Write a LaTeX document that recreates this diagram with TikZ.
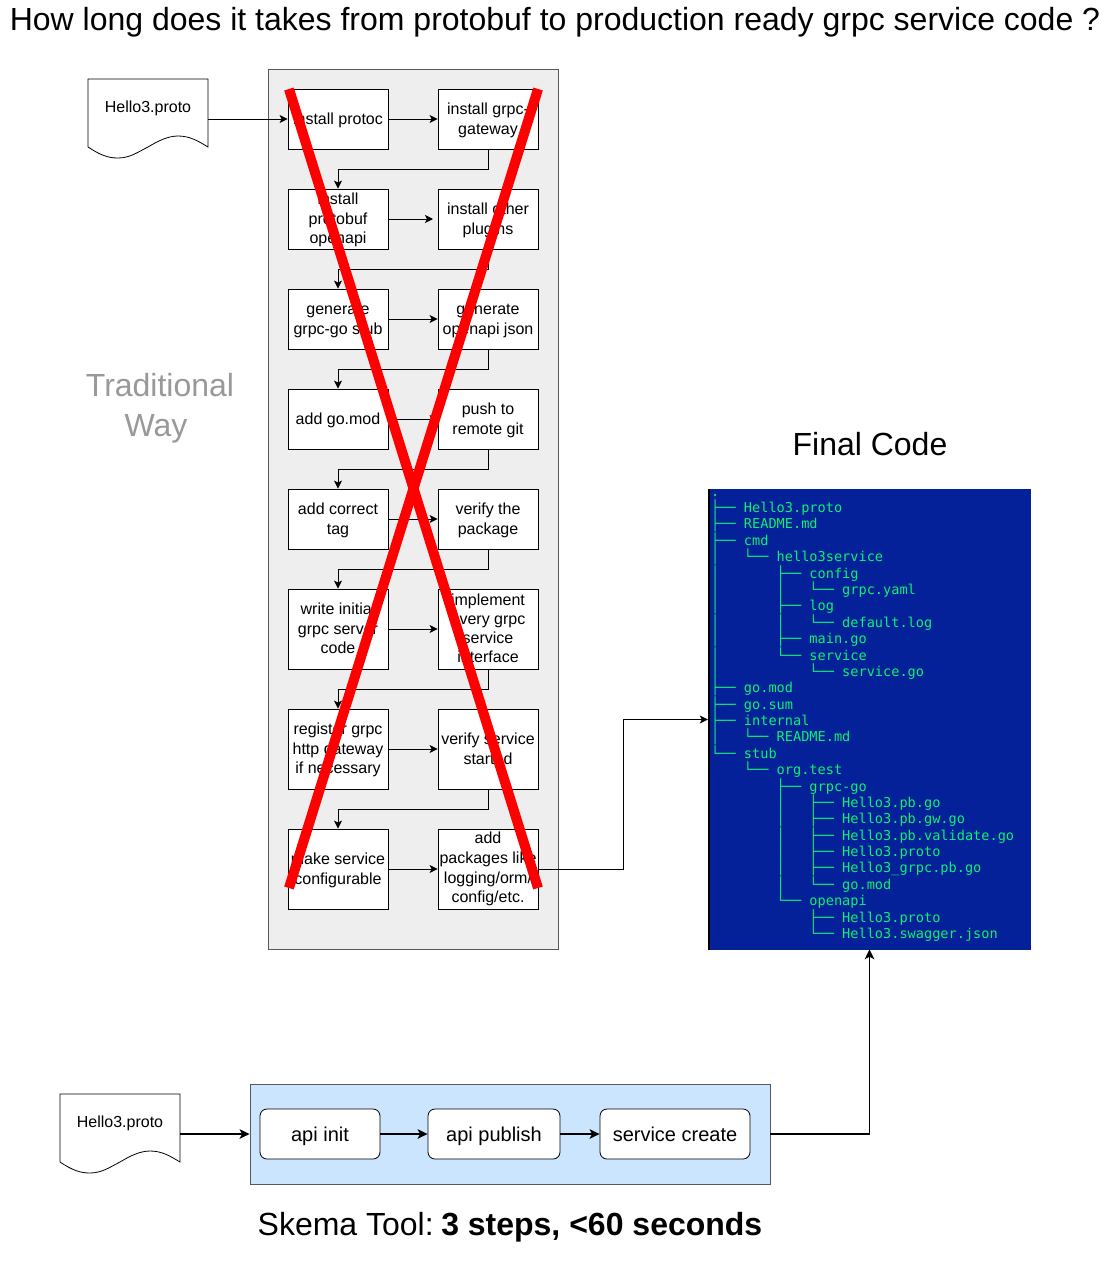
\documentclass[tikz,border=0pt]{standalone}
\usepackage{fontspec}
\setmainfont{Liberation Sans}
\newfontfamily\treemono{DejaVu Sans Mono}
\usetikzlibrary{arrows.meta}
\definecolor{panelgray}{HTML}{EEEEEE}
\definecolor{panelline}{HTML}{55585C}
\definecolor{skemablue}{HTML}{CCE5FF}
\definecolor{termblue}{HTML}{04219A}
\definecolor{termgreen}{HTML}{0CF070}
\definecolor{crossred}{HTML}{FF0000}
\definecolor{waygray}{HTML}{999999}
\tikzset{
  stepbox/.style={draw=black,fill=white,line width=0.8pt,minimum width=100pt,inner sep=0pt,align=center,text depth=0pt},
  settext/.style 2 args={font=\fontsize{16}{#2}\selectfont,text height=#1pt},
  oneline/.style={stepbox,settext={10.6}{19.2}},
  twolines/.style={stepbox,settext={30.6}{20}},
  threelines/.style={stepbox,settext={48.6}{19.2}},
  fourlines/.style={stepbox,settext={67.2}{19.2}},
  widefour/.style={stepbox,settext={67.4}{19.6}},
  flow/.style={draw=black,line width=0.9pt,-{Stealth[length=8pt,width=8pt,inset=2pt]}},
  flowbig/.style={draw=black,line width=1.8pt,-{Stealth[length=10pt,width=9.5pt,inset=2.5pt]}},
  docline/.style={draw=black,fill=white,line width=0.8pt},
  cross/.style={draw=crossred,line width=10pt},
  tool/.style={draw=black,fill=white,rounded corners=7pt,line width=0.8pt,minimum height=50pt,inner sep=0pt,
    text height=18.5pt,text depth=4pt,font=\fontsize{20}{24}\selectfont},
  doctext/.style={font=\fontsize{16}{19.2}\selectfont,inner sep=0pt},
  bigtext/.style={font=\fontsize{32}{40}\selectfont,inner sep=0pt,align=center}
}
\begin{document}
\begin{tikzpicture}[x=1pt,y=-1pt]
\useasboundingbox (0,0) rectangle (1111,1280);
\fill[white] (0,0) rectangle (1111,1280);

\node[bigtext] (title) at (555,22) {How long does it takes from protobuf to production ready grpc service code ?};

% panel
\node[draw=panelline,fill=panelgray,line width=0.8pt,minimum width=290pt,minimum height=880pt,inner sep=0pt] (panel) at (413,509) {};

% document 1
\node[minimum width=120pt,minimum height=80pt,inner sep=0pt] (doc1) at (148,119) {};
\draw[docline] (88,79) -- (208,79) -- (208,147) .. controls (198,141) and (190,136) .. (178,136) .. controls (168,136) and (158,141) .. (148,147) .. controls (138,152) and (130,158) .. (118,158) .. controls (108,158) and (100,155) .. (88,147) -- cycle;
\node[doctext] (doc1label) at (148,108) {Hello3.proto};

% steps
\node[oneline,minimum height=60pt] (l1) at (338,119) {install protoc};
\node[twolines,minimum height=60pt] (r1) at (488,119) {install grpc-\\gateway};
\node[threelines,minimum height=60pt] (l2) at (338,219) {install\\protobuf\\openapi};
\node[twolines,minimum height=60pt] (r2) at (488,219) {install other\\plugins};
\node[twolines,minimum height=60pt] (l3) at (338,319) {generate\\grpc-go stub};
\node[twolines,minimum height=60pt] (r3) at (488,319) {generate\\openapi json};
\node[oneline,minimum height=60pt] (l4) at (338,419) {add go.mod};
\node[twolines,minimum height=60pt] (r4) at (488,419) {push to\\remote git};
\node[twolines,minimum height=60pt] (l5) at (338,519) {add correct\\tag};
\node[twolines,minimum height=60pt] (r5) at (488,519) {verify the\\package};
\node[threelines,minimum height=80pt] (l6) at (338,629) {write initial\\grpc server\\code};
\node[fourlines,minimum height=80pt] (r6) at (488,629) {implement\\every grpc\\service\\interface};
\node[threelines,minimum height=80pt] (l7) at (338,749) {register grpc\\http gateway\\if necessary};
\node[twolines,minimum height=80pt] (r7) at (488,749) {verify service\\started};
\node[twolines,minimum height=80pt] (l8) at (338,869) {make service\\configurable};
\node[widefour,minimum height=80pt] (r8) at (488,869) {add\\packages like\\logging/orm/\\config/etc.};

\coordinate (r2stop) at (433,219);

\draw[flow] (doc1.east) -- (l1.west);
\draw[flow] (l1) -- (r1);
\draw[flow] (l2.east) -- (r2stop);
\draw[flow] (l3) -- (r3);
\draw[flow] (l4) -- (r4);
\draw[flow] (l5) -- (r5);
\draw[flow] (l6) -- (r6);
\draw[flow] (l7) -- (r7);
\draw[flow] (l8) -- (r8);
\draw[flow] (r1.south) -- ++(0,20) -| (l2.north);
\draw[flow] (r2.south) -- ++(0,20) -| (l3.north);
\draw[flow] (r3.south) -- ++(0,20) -| (l4.north);
\draw[flow] (r4.south) -- ++(0,20) -| (l5.north);
\draw[flow] (r5.south) -- ++(0,20) -| (l6.north);
\draw[flow] (r6.south) -- ++(0,20) -| (l7.north);
\draw[flow] (r7.south) -- ++(0,20) -| (l8.north);

% red cross
\coordinate (crossa) at (289,89);
\coordinate (crossb) at (538,888);
\coordinate (crossc) at (538,89);
\coordinate (crossd) at (289,888);
\draw[cross] (crossa) -- (crossb);
\draw[cross] (crossc) -- (crossd);

\node[bigtext,text=waygray] (way) at (160,408) {Traditional\\Way\hspace*{8pt}};
\node[bigtext] (final) at (870,444) {Final Code};

% terminal image
\node[fill=termblue,minimum width=323pt,minimum height=461pt,inner sep=0pt] (image) at (869.5,719.5) {};
\fill[black] (image.north west) rectangle ([xshift=2.5pt]image.south west);
\node[anchor=north west,inner sep=0pt,align=left,text=termgreen,
  font=\treemono\fontsize{13.6}{16.38}\selectfont] (tree) at (711,494) {%
.\\
├──~Hello3.proto\\
├──~README.md\\
├──~cmd\\
│~~~└──~hello3service\\
│~~~~~~~├──~config\\
│~~~~~~~│~~~└──~grpc.yaml\\
│~~~~~~~├──~log\\
│~~~~~~~│~~~└──~default.log\\
│~~~~~~~├──~main.go\\
│~~~~~~~└──~service\\
│~~~~~~~~~~~└──~service.go\\
├──~go.mod\\
├──~go.sum\\
├──~internal\\
│~~~└──~README.md\\
└──~stub\\
~~~~└──~org.test\\
~~~~~~~~├──~grpc-go\\
~~~~~~~~│~~~├──~Hello3.pb.go\\
~~~~~~~~│~~~├──~Hello3.pb.gw.go\\
~~~~~~~~│~~~├──~Hello3.pb.validate.go\\
~~~~~~~~│~~~├──~Hello3.proto\\
~~~~~~~~│~~~├──~Hello3\_grpc.pb.go\\
~~~~~~~~│~~~└──~go.mod\\
~~~~~~~~└──~openapi\\
~~~~~~~~~~~~├──~Hello3.proto\\
~~~~~~~~~~~~└──~Hello3.swagger.json};

\draw[flow] (r8.east) -- ++(85,0) |- (image.west);

% bottom row
\node[minimum width=120pt,minimum height=80pt,inner sep=0pt] (doc2) at (120,1134) {};
\draw[docline] (60,1094) -- (180,1094) -- (180,1162) .. controls (170,1156) and (162,1151) .. (150,1151) .. controls (140,1151) and (130,1156) .. (120,1162) .. controls (110,1167) and (102,1173) .. (90,1173) .. controls (80,1173) and (72,1170) .. (60,1162) -- cycle;
\node[doctext] (doc2label) at (120,1123) {Hello3.proto};

\node[draw=panelline,fill=skemablue,line width=0.8pt,minimum width=520pt,minimum height=100pt,inner sep=0pt] (skema) at (510,1134) {};
\node[tool,minimum width=120pt] (init) at (320,1134) {api init};
\node[tool,minimum width=132pt] (publish) at (494,1134) {api publish};
\node[tool,minimum width=150pt] (create) at (675,1134) {service create};

\draw[flowbig] (doc2.east) -- (skema.west);
\draw[flowbig] (init) -- (publish);
\draw[flowbig] (publish) -- (create);
\draw[flowbig] (skema.east) -| ([yshift=1pt]image.south);

\node[bigtext] (skemalabel) at (510,1227) {Skema Tool:\hspace{7.5pt}\textbf{3 steps, <60 seconds}};
\end{tikzpicture}
\end{document}
